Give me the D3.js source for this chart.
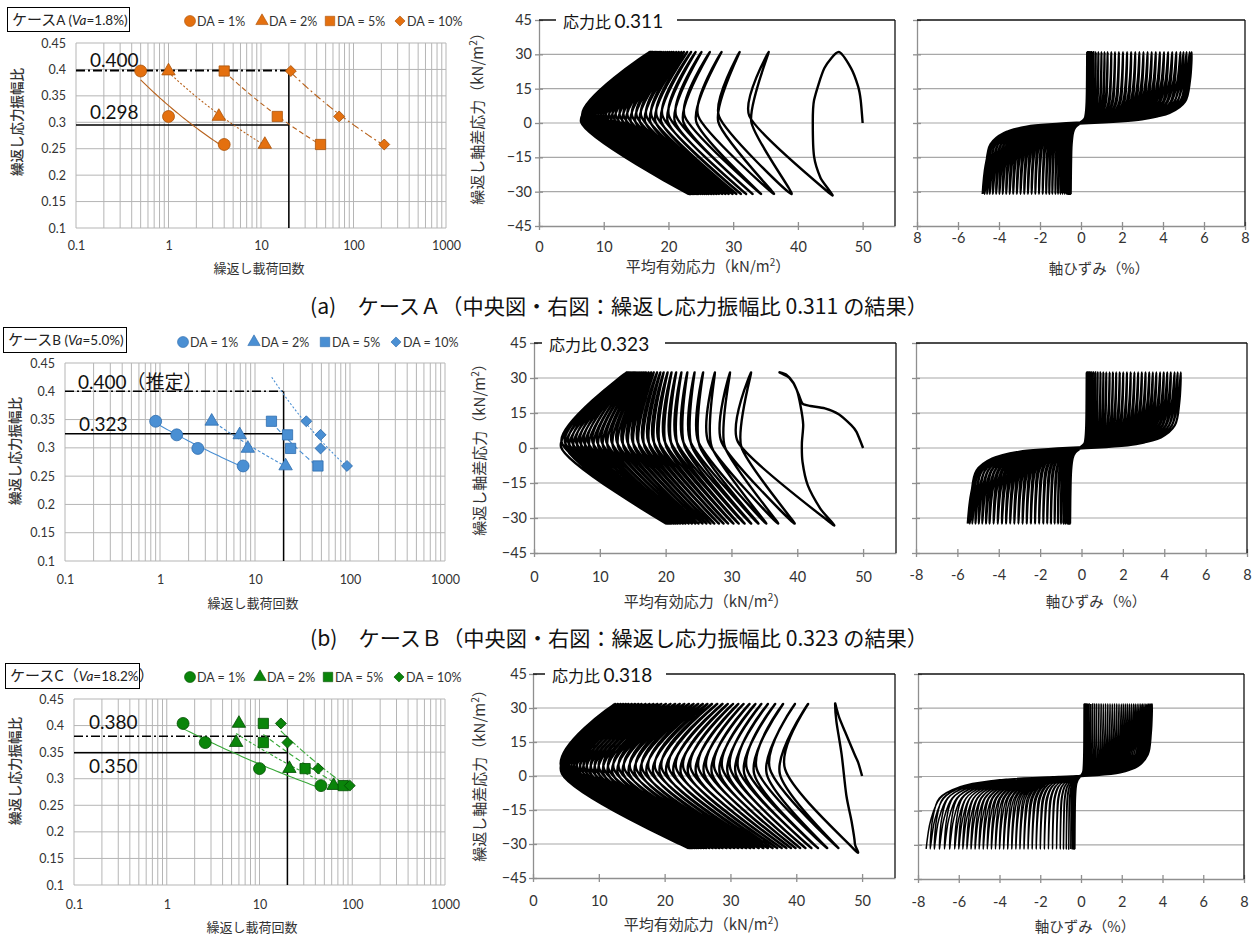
<!DOCTYPE html>
<html>
<head>
<meta charset="utf-8">
<script src="https://cdn.jsdelivr.net/npm/d3@7"></script>
<style>
  body { margin: 0; background: #fff; }
  svg { display: block; background: #fff; }
</style>
</head>
<body>
<svg width="1260" height="936"></svg>
<script>
var FONT = "Lato, 'Noto Sans CJK JP', sans-serif";
var JP = "'Noto Sans CJK JP', sans-serif";

// ---------- left charts: cycles vs stress amplitude ratio ----------
var daNames = ["DA = 1%", "DA = 2%", "DA = 5%", "DA = 10%"];
var ratioTicks = [0.1, 0.15, 0.2, 0.25, 0.3, 0.35, 0.4, 0.45];
var cycleTicks = [0.1, 1, 10, 100, 1000];

var nA = [[0.5, 1, 4], [1, 3.5, 11], [4, 15, 44], [21, 70, 215]];
var rA = [[0.397, 0.311, 0.258], [0.397, 0.311, 0.258], [0.397, 0.311, 0.258], [0.397, 0.311, 0.258]];
var nB = [[0.9, 1.5, 2.5, 7.5], [3.5, 6.9, 8.4, 21], [14.9, 22, 23.7, 46], [34.7, 49, 49, 93]];
var rB = [[0.347, 0.323, 0.299, 0.268], [0.347, 0.323, 0.299, 0.268], [0.347, 0.323, 0.299, 0.268], [0.347, 0.323, 0.299, 0.268]];
var nC = [[1.5, 2.6, 10, 46], [6, 5.6, 21, 63], [11, 11, 31, 80], [17, 20, 43, 94]];
var rC = [[0.404, 0.368, 0.319, 0.287], [0.404, 0.368, 0.319, 0.287], [0.404, 0.368, 0.319, 0.287], [0.404, 0.368, 0.319, 0.287]];

// ---------- middle charts: effective stress paths (p', q) ----------
var stressTicks = [-45, -30, -15, 0, 15, 30, 45];
var stressGrid = [-30, -15, 0, 15, 30];
var pTicks = [0, 10, 20, 30, 40, 50];

var startA = [[50, 0], [49.7, 10], [49.3, 16], [48.2, 24], [46.3, 31], [44.1, 24], [42.5, 10], [42.3, 0], [42.5, -14.7], [43.5, -24], [45, -31]];
var vuA = [32.5, 27.8, 24.6, 22.5, 21.2, 20.1, 19.1, 18.2, 17.4, 16.6, 15.8, 15.1, 14.4, 13.7, 13.1, 12.5, 11.9, 11.4, 10.9, 10.4, 10.0, 9.6, 9.2, 8.8, 8.5, 8.2, 7.9, 7.6, 7.3, 7.0, 6.7];
var topA = [35.5, 31.0, 28.2, 26.4, 25.1, 24.2, 23.5, 22.9, 22.4, 22.0, 21.6, 21.2, 20.8, 20.5, 20.2, 19.9, 19.6, 19.3, 19.0, 18.8, 18.6, 18.4, 18.2, 18.0, 17.8, 17.6, 17.5, 17.4, 17.3, 17.2, 17.1];
var vdA = [32.8, 27.7, 24.3, 22.3, 21.0, 19.9, 18.9, 18.0, 17.2, 16.4, 15.6, 14.9, 14.2, 13.5, 12.9, 12.3, 11.7, 11.2, 10.7, 10.2, 9.8, 9.4, 9.0, 8.6, 8.3, 8.0, 7.7, 7.4, 7.1, 6.8, 6.5];
var botA = [39.0, 36.3, 34.3, 33.0, 32.0, 31.2, 30.5, 29.9, 29.3, 28.8, 28.3, 27.8, 27.4, 27.0, 26.6, 26.2, 25.9, 25.6, 25.3, 25.0, 24.7, 24.5, 24.3, 24.1, 23.9, 23.7, 23.5, 23.4, 23.3, 23.2, 23.1];

var startB = [[50, 0], [49, 6.9], [48.2, 9.8], [46.3, 14.5], [44.2, 17], [42, 18], [40.8, 19], [40.2, 23], [39.4, 28], [38.3, 31.5], [37.3, 32.4], [38.8, 30], [39.9, 25], [40.5, 18], [40.9, 10], [40.7, 2], [40.8, -6], [41.6, -16], [43.5, -26], [45.2, -32.4]];
var vuB = [31.0, 28.5, 26.5, 25.0, 23.8, 22.7, 21.7, 20.8, 19.9, 19.0, 18.2, 17.4, 16.6, 15.8, 15.0, 14.2, 13.4, 12.6, 11.8, 11.0, 10.3, 9.6, 8.9, 8.2, 7.6, 7.0, 6.4, 5.8, 5.2, 4.7, 4.2];
var topB = [33.0, 29.8, 27.5, 25.7, 24.4, 23.3, 22.4, 21.6, 20.9, 20.3, 19.7, 19.2, 18.7, 18.2, 17.8, 17.4, 17.0, 16.7, 16.4, 16.1, 15.8, 15.5, 15.3, 15.1, 14.9, 14.7, 14.5, 14.4, 14.3, 14.2, 14.1];
var vdB = [31.5, 29.0, 27.0, 25.2, 24.0, 22.9, 21.9, 21.0, 20.1, 19.2, 18.4, 17.6, 16.8, 16.0, 15.2, 14.4, 13.6, 12.8, 12.0, 11.2, 10.5, 9.8, 9.1, 8.4, 7.8, 7.2, 6.6, 6.0, 5.4, 4.8, 4.1];
var botB = [39.6, 37.1, 35.3, 34.1, 33.0, 32.0, 31.1, 30.3, 29.5, 28.8, 28.1, 27.4, 26.8, 26.2, 25.6, 25.0, 24.5, 24.0, 23.5, 23.0, 22.6, 22.2, 21.8, 21.5, 21.2, 20.9, 20.7, 20.5, 20.3, 20.2, 20.1];

var startC = [[50, 0], [49.4, 6], [48.9, 9.3], [47.4, 19.6], [46.5, 26], [46.1, 30], [45.9, 31.8], [46.1, 24], [46.9, 9.3], [47.6, -8.4], [48.4, -20], [48.9, -29.8], [48.6, -31.8]];
var vuC = [38.3, 36.0, 34.0, 32.5, 31.2, 30.0, 28.8, 27.6, 26.4, 25.2, 24.0, 22.9, 21.8, 20.7, 19.6, 18.6, 17.6, 16.6, 15.7, 14.8, 13.9, 13.1, 12.3, 11.5, 10.8, 10.1, 9.5, 8.9, 8.3, 7.8, 7.3, 6.8, 6.4, 6.0, 5.6, 5.3, 5.0, 4.8, 4.6, 4.4];
var topC = [41.8, 39.8, 38.0, 36.8, 35.7, 34.7, 33.8, 32.9, 32.0, 31.2, 30.4, 29.6, 28.8, 28.0, 27.2, 26.5, 25.8, 25.1, 24.4, 23.7, 23.0, 22.3, 21.6, 20.9, 20.2, 19.5, 18.9, 18.3, 17.7, 17.1, 16.5, 16.0, 15.5, 15.0, 14.5, 14.1, 13.7, 13.3, 12.9, 12.5];
var vdC = [37.5, 35.5, 33.6, 32.1, 30.8, 29.6, 28.4, 27.2, 26.0, 24.8, 23.6, 22.5, 21.4, 20.3, 19.3, 18.3, 17.3, 16.4, 15.5, 14.6, 13.7, 12.9, 12.1, 11.4, 10.7, 10.0, 9.4, 8.8, 8.2, 7.7, 7.2, 6.7, 6.3, 5.9, 5.5, 5.2, 4.9, 4.7, 4.5, 4.4];
var botC = [46.4, 44.7, 43.3, 42.3, 41.4, 40.6, 39.9, 39.2, 38.5, 37.8, 37.1, 36.4, 35.7, 35.0, 34.3, 33.6, 33.0, 32.4, 31.8, 31.2, 30.6, 30.0, 29.4, 28.8, 28.3, 27.8, 27.3, 26.8, 26.3, 25.9, 25.5, 25.1, 24.8, 24.5, 24.2, 24.0, 23.9, 23.8, 23.7, 23.6];

// ---------- right charts: axial strain (%) turning points ----------
var strainTicks = [-8, -6, -4, -2, 0, 2, 4, 6, 8];
var strainLabelsA = ["8", "-6", "-4", "-2", "0", "2", "4", "6", "8"];
var strainLabels = ["-8", "-6", "-4", "-2", "0", "2", "4", "6", "8"];

var eTopA = [0.3, 0.35, 0.42, 0.5, 0.6, 0.72, 0.85, 1.0, 1.15, 1.3, 1.48, 1.66, 1.85, 2.05, 2.25, 2.45, 2.65, 2.85, 3.05, 3.25, 3.45, 3.65, 3.85, 4.05, 4.25, 4.45, 4.65, 4.85, 5.0, 5.15, 5.3, 5.4];
var eBotA = [-0.5, -0.55, -0.6, -0.66, -0.72, -0.8, -0.9, -1.0, -1.12, -1.25, -1.4, -1.55, -1.7, -1.87, -2.05, -2.23, -2.41, -2.59, -2.77, -2.95, -3.13, -3.31, -3.48, -3.65, -3.82, -3.98, -4.14, -4.3, -4.45, -4.58, -4.7, -4.8];
var eTopB = [0.25, 0.3, 0.37, 0.45, 0.55, 0.66, 0.78, 0.92, 1.06, 1.2, 1.36, 1.52, 1.68, 1.85, 2.02, 2.2, 2.38, 2.56, 2.74, 2.92, 3.1, 3.28, 3.45, 3.62, 3.8, 3.98, 4.15, 4.32, 4.5, 4.65, 4.8];
var eBotB = [-0.55, -0.6, -0.68, -0.77, -0.88, -1.0, -1.14, -1.3, -1.48, -1.66, -1.85, -2.05, -2.25, -2.45, -2.65, -2.85, -3.05, -3.25, -3.45, -3.65, -3.85, -4.05, -4.25, -4.45, -4.62, -4.8, -4.97, -5.13, -5.28, -5.4, -5.5];
var eTopC = [0.15, 0.18, 0.22, 0.27, 0.33, 0.4, 0.48, 0.57, 0.67, 0.77, 0.88, 0.99, 1.1, 1.21, 1.32, 1.43, 1.54, 1.65, 1.76, 1.87, 1.98, 2.08, 2.18, 2.28, 2.38, 2.48, 2.58, 2.67, 2.76, 2.85, 2.94, 3.02, 3.1, 3.18, 3.25, 3.32, 3.38, 3.43, 3.47, 3.5];
var eBotC = [-0.3, -0.35, -0.42, -0.5, -0.6, -0.72, -0.86, -1.02, -1.2, -1.4, -1.6, -1.8, -2.0, -2.2, -2.4, -2.6, -2.8, -3.0, -3.2, -3.4, -3.6, -3.8, -4.0, -4.2, -4.4, -4.6, -4.8, -5.0, -5.2, -5.4, -5.6, -5.8, -6.0, -6.2, -6.45, -6.7, -6.95, -7.2, -7.4, -7.6];

var svg = d3.select("svg");

function powerFit(xs, ys) {
  var lx = xs.map(Math.log), ly = ys.map(Math.log);
  var mx = d3.mean(lx), my = d3.mean(ly);
  var b = d3.sum(lx, function (v, i) { return (v - mx) * (ly[i] - my); }) /
          d3.sum(lx, function (v) { return (v - mx) * (v - mx); });
  var a = my - b * mx;
  return function (n) { return Math.exp(a + b * Math.log(n)); };
}

var symTypes = [d3.symbolCircle, d3.symbolTriangle, d3.symbolSquare, d3.symbolSquare];
var symSizes = [112, 78, 105, 60];
var symRot = [0, 0, 0, 45];

function drawLeft(c) {
  var g = svg.append("g");
  var x = d3.scaleLog().domain([0.1, 1000]).range([c.x0, c.x1]);
  var y = d3.scaleLinear().domain([0.1, 0.45]).range([c.y1, c.y0]);

  var minor = [];
  [0.1, 1, 10, 100].forEach(function (d) { for (var k = 1; k < 10; k++) minor.push(d * k); });
  minor.push(1000);
  g.append("g").selectAll("line").data(minor).enter().append("line")
    .attr("x1", function (d) { return x(d); }).attr("x2", function (d) { return x(d); })
    .attr("y1", c.y0).attr("y2", c.y1)
    .attr("stroke", "#b5b5b5").attr("stroke-width", 1);
  g.append("g").selectAll("line").data(ratioTicks).enter().append("line")
    .attr("x1", c.x0).attr("x2", c.x1)
    .attr("y1", function (d) { return y(d); }).attr("y2", function (d) { return y(d); })
    .attr("stroke", "#b5b5b5").attr("stroke-width", 1);

  var ay = g.append("g").attr("transform", "translate(" + c.x0 + ",0)")
    .call(d3.axisLeft(y).tickValues(ratioTicks).tickSize(0).tickPadding(10).tickFormat(d3.format("")));
  var ax = g.append("g").attr("transform", "translate(0," + c.y1 + ")")
    .call(d3.axisBottom(x).tickValues(cycleTicks).tickSize(0).tickPadding(c.xPad)
      .tickFormat(function (d) { return String(d); }));
  [ay, ax].forEach(function (a) {
    a.select(".domain").remove();
    a.selectAll("text").attr("font-family", FONT).attr("font-size", 12.5).attr("fill", "#333");
  });

  // reference lines
  g.append("line").attr("x1", c.x0).attr("x2", x(20)).attr("y1", y(c.refDash)).attr("y2", y(c.refDash))
    .attr("stroke", "#000").attr("stroke-width", c.dashW).attr("stroke-dasharray", "9,3,2,3");
  g.append("line").attr("x1", c.x0).attr("x2", x(20)).attr("y1", y(c.refSolid)).attr("y2", y(c.refSolid))
    .attr("stroke", "#000").attr("stroke-width", 1.5);
  g.append("line").attr("x1", x(20)).attr("x2", x(20)).attr("y1", y(c.refDash)).attr("y2", c.y1)
    .attr("stroke", "#000").attr("stroke-width", 1.5);

  // power trend lines
  var line = d3.line().x(function (d) { return x(d[0]); }).y(function (d) { return y(d[1]); });
  c.n.forEach(function (ns, k) {
    var f = powerFit(ns, c.r[k]);
    var lo = c.trendFrom[k] || d3.min(ns), hi = d3.max(ns);
    var pts = d3.range(41).map(function (i) {
      var n = Math.exp(Math.log(lo) + (Math.log(hi) - Math.log(lo)) * i / 40);
      return [n, f(n)];
    });
    g.append("path").attr("d", line(pts)).attr("fill", "none")
      .attr("stroke", c.trend).attr("stroke-width", 1.1)
      .attr("stroke-dasharray", c.dashes[k]);
  });

  // markers
  c.n.forEach(function (ns, k) {
    g.append("g").selectAll("path").data(ns.map(function (n, i) { return [n, c.r[k][i]]; }))
      .enter().append("path")
      .attr("transform", function (d) { return "translate(" + x(d[0]) + "," + y(d[1]) + ") rotate(" + symRot[k] + ")"; })
      .attr("d", d3.symbol().type(symTypes[k]).size(symSizes[k]))
      .attr("fill", c.fill).attr("stroke", c.stroke).attr("stroke-width", 0.8);
  });

  // legend
  daNames.forEach(function (t, k) {
    g.append("path")
      .attr("transform", "translate(" + c.legX[k] + "," + c.legY + ") rotate(" + symRot[k] + ")")
      .attr("d", d3.symbol().type(symTypes[k]).size(symSizes[k] * 0.85))
      .attr("fill", c.fill).attr("stroke", c.stroke).attr("stroke-width", 0.6);
    g.append("text").attr("x", c.legX[k] + 7).attr("y", c.legY + 4.5)
      .attr("font-family", FONT).attr("font-size", 12.5).attr("fill", "#333").text(t);
  });

  // case box
  g.append("rect").attr("x", c.box[0] + 0.5).attr("y", c.box[1] + 0.5).attr("width", c.box[2]).attr("height", c.box[3])
    .attr("fill", "#fff").attr("stroke", "#000").attr("stroke-width", 1);
  var bt = g.append("text").attr("x", c.box[0] + 5).attr("y", c.box[1] + 18)
    .attr("font-family", FONT).attr("font-size", 13.5).attr("fill", "#222");
  c.boxParts.forEach(function (p) {
    bt.append("tspan").text(p[0])
      .attr("font-style", p[1] ? "italic" : null)
      .attr("font-family", p[2] ? JP : null)
      .attr("font-size", p[2] ? 15 : null);
  });

  // annotations
  c.notes.forEach(function (d) {
    g.append("text").attr("x", d[1]).attr("y", d[2]).attr("font-family", FONT)
      .attr("font-size", 19).attr("fill", "#111").text(d[0]);
  });

  g.append("text").attr("x", c.xt[0]).attr("y", c.xt[1]).attr("text-anchor", "middle")
    .attr("font-family", JP).attr("font-size", 13).attr("fill", "#333").text("繰返し載荷回数");
  g.append("text").attr("transform", "translate(" + c.yt[0] + "," + c.yt[1] + ") rotate(-90)")
    .attr("text-anchor", "middle").attr("dy", "0.35em")
    .attr("font-family", JP).attr("font-size", 13.5).attr("font-weight", 500).attr("fill", "#333").text("繰返し応力振幅比");
}

function drawFrame(g, x, y, c, xt, xl, yLabels) {
  g.append("g").selectAll("line").data(stressGrid).enter().append("line")
    .attr("x1", c.x0).attr("x2", c.x1)
    .attr("y1", function (d) { return y(d); }).attr("y2", function (d) { return y(d); })
    .attr("stroke", "#a8a8a8").attr("stroke-width", 1.2);

  var ay = g.append("g").attr("transform", "translate(" + c.x0 + ",0)")
    .call(d3.axisLeft(y).tickValues(stressTicks).tickSizeInner(4).tickSizeOuter(0).tickPadding(c.yPad)
      .tickFormat(yLabels ? d3.format("") : function () { return ""; }));
  ay.selectAll(".tick line").attr("x1", 4).attr("x2", -4);
  var ax = g.append("g").attr("transform", "translate(0," + c.y1 + ")")
    .call(d3.axisBottom(x).tickValues(xt).tickSizeInner(4).tickSizeOuter(0).tickPadding(c.xPad)
      .tickFormat(function (d, i) { return xl[i]; }));
  ax.selectAll(".tick line").attr("y1", -4).attr("y2", 4);
  [ay, ax].forEach(function (a) {
    a.select(".domain").attr("stroke", "#8f8f8f").attr("stroke-width", 1.3);
    a.selectAll(".tick line").attr("stroke", "#8f8f8f").attr("stroke-width", 1.3);
    a.selectAll("text").attr("font-family", FONT).attr("font-size", 14.5).attr("fill", "#333");
  });

  g.append("line").attr("x1", c.x0).attr("x2", c.x1).attr("y1", c.y0).attr("y2", c.y0)
    .attr("stroke", "#111").attr("stroke-width", 1.3);
  g.append("line").attr("x1", c.x1).attr("x2", c.x1).attr("y1", c.y0).attr("y2", c.y1)
    .attr("stroke", "#111").attr("stroke-width", 1.3);
}

function drawMid(c) {
  var g = svg.append("g");
  var x = d3.scaleLinear().domain([0, 55]).range([c.x0, c.x1]);
  var y = d3.scaleLinear().domain([-45, 45]).range([c.y1, c.y0]);
  drawFrame(g, x, y, c, pTicks, pTicks.map(String), true);

  var pts = c.start.slice();
  c.top.forEach(function (t, i) {
    pts.push([c.vu[i], c.qUp], [t, c.q], [c.vd[i], c.qDown], [c.bot[i], -c.q]);
  });
  g.append("path")
    .attr("d", d3.line().x(function (d) { return x(d[0]); }).y(function (d) { return y(d[1]); })
      .curve(d3.curveCardinal.tension(c.tension))(pts))
    .attr("fill", "none").attr("stroke", "#000").attr("stroke-width", 2.4)
    .attr("stroke-linejoin", "round");

  // title on the frame
  g.append("rect").attr("x", c.title[0]).attr("y", c.y0 - 10).attr("width", c.title[1] - c.title[0])
    .attr("height", 20).attr("fill", "#fff");
  var tt = g.append("text").attr("x", c.title[0] + 7).attr("y", c.y0 + 8).attr("fill", "#111");
  tt.append("tspan").attr("font-family", JP).attr("font-size", 16).text("応力比 ");
  tt.append("tspan").attr("font-family", FONT).attr("font-size", 19).text(c.ratio);

  var xt = g.append("text").attr("x", c.xt[0]).attr("y", c.xt[1]).attr("text-anchor", "middle")
    .attr("font-family", JP).attr("font-size", 15).attr("fill", "#333");
  xt.append("tspan").text("平均有効応力（kN/m");
  xt.append("tspan").attr("font-size", 10).attr("dy", -6).text("2");
  xt.append("tspan").attr("dy", 6).text("）");
  var yt = g.append("text").attr("transform", "translate(" + c.yt[0] + "," + c.yt[1] + ") rotate(-90)")
    .attr("text-anchor", "middle").attr("dy", "0.35em")
    .attr("font-family", JP).attr("font-size", 15).attr("fill", "#333");
  yt.append("tspan").text("繰返し軸差応力（kN/m");
  yt.append("tspan").attr("font-size", 10).attr("dy", -6).text("2");
  yt.append("tspan").attr("dy", 6).text("）");
}

// one branch of a strain loop, shaped relative to the turning strains:
// stiff when leaving a turning point, softening through zero, stiffening toward the next
var departShape = [[0.985, 0.6], [0.94, 0.3], [0.8, 0.14], [0.55, 0.06]];
var arriveShape = [[0.55, 0.05], [0.78, 0.14], [0.91, 0.3], [0.97, 0.6]];
function branch(pts, x1, y1, x2, y2) {
  departShape.forEach(function (p) { pts.push([x1 * p[0], y1 * p[1]]); });
  arriveShape.forEach(function (p) { pts.push([x2 * p[0], y2 * p[1]]); });
  pts.push([x2, y2]);
}

function drawRight(c) {
  var g = svg.append("g");
  var x = d3.scaleLinear().domain([-8, 8]).range([c.x0, c.x1]);
  var y = d3.scaleLinear().domain([-45, 45]).range([c.y1, c.y0]);
  drawFrame(g, x, y, c, strainTicks, c.labels, false);

  var Q = c.q;
  var pts = [[0, 0]];
  arriveShape.forEach(function (p) { pts.push([c.top[0] * p[0], Q * p[1]]); });
  pts.push([c.top[0], Q]);
  c.top.forEach(function (t, i) {
    branch(pts, t, Q, c.bot[i], -Q);
    if (i + 1 < c.top.length) branch(pts, c.bot[i], -Q, c.top[i + 1], Q);
  });
  g.append("path")
    .attr("d", d3.line().x(function (d) { return x(d[0]); }).y(function (d) { return y(d[1]); })
      .curve(d3.curveCatmullRom.alpha(0.5))(pts))
    .attr("fill", "none").attr("stroke", "#000").attr("stroke-width", c.lw);

  g.append("text").attr("x", c.xt[0]).attr("y", c.xt[1]).attr("text-anchor", "middle")
    .attr("font-family", JP).attr("font-size", 14.5).attr("fill", "#333").text("軸ひずみ（%）");
}

function caption(txt, y) {
  svg.append("text").attr("x", 310).attr("y", y).attr("font-family", JP).attr("font-size", 21)
    .attr("fill", "#111").attr("textLength", 618).attr("lengthAdjust", "spacingAndGlyphs").text(txt);
}

// ---------- case A ----------
drawLeft({
  x0: 76, x1: 446, y0: 43, y1: 228, xPad: 13,
  n: nA, r: rA, fill: "#E4700F", stroke: "#A9530A", trend: "#B8621C",
  dashes: [null, "2,2", "5,3", "8,3,2,3"], trendFrom: [null, null, null, null],
  refDash: 0.398, refSolid: 0.295, dashW: 2,
  legX: [190, 262, 330, 400], legY: 21,
  box: [7, 7, 122, 24], boxParts: [["ケース", 0, 1], ["A (", 0, 0], ["Va", 1, 0], ["=1.8%)", 0, 0]],
  notes: [["0.400", 90, 67], ["0.298", 90, 119]],
  xt: [259, 273], yt: [17, 122]
});
drawMid({
  x0: 539, x1: 895, y0: 20, y1: 226, xPad: 12, yPad: 3, tension: 0.3,
  start: startA, vu: vuA, top: topA, vd: vdA, bot: botA, q: 31, qUp: 3, qDown: 0.5,
  title: [556, 677], ratio: "0.311", xt: [708, 272], yt: [478, 115]
});
drawRight({
  x0: 917, x1: 1245, y0: 20, y1: 226, xPad: 3, yPad: 3, lw: 2.2,
  top: eTopA, bot: eBotA, q: 31, labels: strainLabelsA, xt: [1099, 274]
});
caption("(a)　ケースＡ（中央図・右図：繰返し応力振幅比 0.311 の結果）", 314);

// ---------- case B ----------
drawLeft({
  x0: 65, x1: 445, y0: 363, y1: 561, xPad: 14,
  n: nB, r: rB, fill: "#4A8FD3", stroke: "#2F6DAE", trend: "#4A8FD3",
  dashes: [null, "3,2", "5,3", "2,2"], trendFrom: [null, null, null, 15],
  refDash: 0.4, refSolid: 0.325, dashW: 1.4,
  legX: [183, 254, 325, 396], legY: 342,
  box: [3, 327, 123, 25], boxParts: [["ケース", 0, 1], ["B (", 0, 0], ["Va", 1, 0], ["=5.0%)", 0, 0]],
  notes: [["0.400（推定）", 78, 389], ["0.323", 79, 431]],
  xt: [253, 608], yt: [15, 451]
});
drawMid({
  x0: 534, x1: 896, y0: 343, y1: 553, xPad: 15, yPad: 3, tension: 0.3,
  start: startB, vu: vuB, top: topB, vd: vdB, bot: botB, q: 32.4, qUp: 2.5, qDown: 0.5,
  title: [542, 665], ratio: "0.323", xt: [706, 607], yt: [480, 446]
});
drawRight({
  x0: 916, x1: 1247, y0: 343, y1: 553, xPad: 13, yPad: 3, lw: 2.2,
  top: eTopB, bot: eBotB, q: 32.4, labels: strainLabels, xt: [1096, 607]
});
caption("(b)　ケースＢ（中央図・右図：繰返し応力振幅比 0.323 の結果）", 646);

// ---------- case C ----------
drawLeft({
  x0: 74, x1: 445, y0: 699, y1: 885, xPad: 15,
  n: nC, r: rC, fill: "#0A850A", stroke: "#034F03", trend: "#38A838",
  dashes: [null, "3,2", "5,3", "7,2,2,2"], trendFrom: [null, null, null, null],
  refDash: 0.38, refSolid: 0.349, dashW: 1.4,
  legX: [190, 260, 328, 399], legY: 677,
  box: [5, 663, 134, 25], boxParts: [["ケース", 0, 1], ["C（", 0, 1], ["Va", 1, 0], ["=18.2%", 0, 0], ["）", 0, 1]],
  notes: [["0.380", 89, 729], ["0.350", 89, 773]],
  xt: [252, 932], yt: [15, 771]
});
drawMid({
  x0: 533, x1: 895, y0: 674, y1: 878, xPad: 14, yPad: 2, tension: 0.1,
  start: startC, vu: vuC, top: topC, vd: vdC, bot: botC, q: 31.8, qUp: 3, qDown: 1,
  title: [545, 666], ratio: "0.318", xt: [706, 930], yt: [480, 772]
});
drawRight({
  x0: 918, x1: 1244, y0: 674, y1: 879, xPad: 14, yPad: 3, lw: 1.5,
  top: eTopC, bot: eBotC, q: 31.8, labels: strainLabels, xt: [1085, 932]
});
</script>
</body>
</html>
